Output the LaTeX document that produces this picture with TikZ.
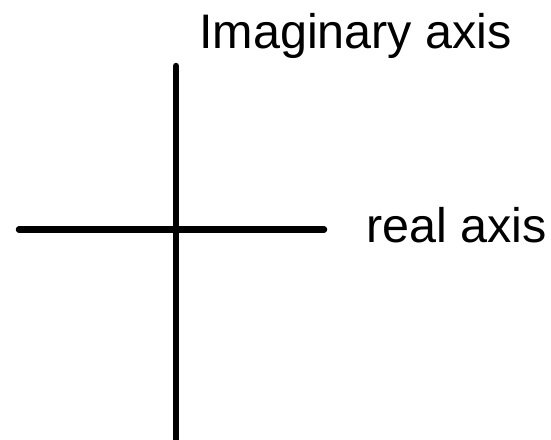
\documentclass[tikz,border=0pt]{standalone}
\usepackage{fontspec}
\setmainfont{Liberation Sans}
\usepackage{tikz}
\usetikzlibrary{positioning}

\begin{document}
\begin{tikzpicture}[x=1pt,y=-1pt,
      axisline/.style={line width=6.5pt,line cap=round},
      axislabel/.style={inner sep=0pt,anchor=base west,font=\fontsize{48.5}{58}\selectfont}
    ]
    \useasboundingbox (0,0) rectangle (551,439);

    % axis ends
    \coordinate (imtop) at (176,66);
    \coordinate (imbot) at (176,445);
    \coordinate (releft) at (19,229.5);
    \coordinate (reright) at (324,229.5);

    \node[axislabel] (imlabel) at (199,48) {Imaginary axis};
    \node[axislabel] (relabel) at (366,242) {real axis};

    \draw[axisline] (imtop) -- (imbot);
    \draw[axisline] (releft) -- (reright);
  \end{tikzpicture}
\end{document}
